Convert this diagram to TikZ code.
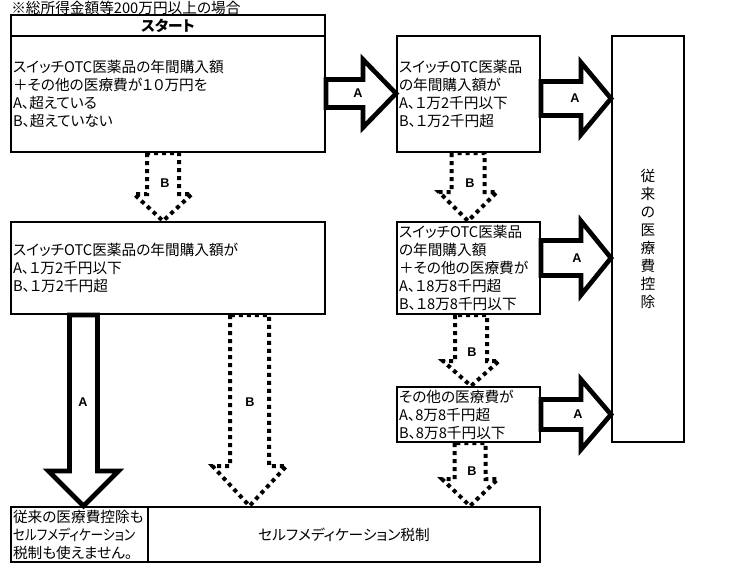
\documentclass[tikz,border=0pt]{standalone}
\usepackage{fontspec}
\setmainfont{Noto Sans CJK JP}[RawFeature=+palt]
\newfontfamily\lblfont{Liberation Sans}
\usetikzlibrary{calc}
\newcommand\jpfont{\fontsize{11pt}{13.5pt}\selectfont}
\newcommand\rarrow[7]{%
 \draw[#7] let \p1=(#1.east), \p2=(#2.west), \p3=(0,#3) in
  (\x1,{\y3+#4*0.75pt}) -- ({\x2-#6*0.75pt},{\y3+#4*0.75pt}) -- ({\x2-#6*0.75pt},{\y3+#5*0.75pt})
  -- (\x2,\y3) -- ({\x2-#6*0.75pt},{\y3-#5*0.75pt}) -- ({\x2-#6*0.75pt},{\y3-#4*0.75pt})
  -- (\x1,{\y3-#4*0.75pt}) -- cycle;}
\newcommand\darrow[7]{%
 \draw[#7] let \p1=(#1.south), \p2=(#2.north), \p3=(#3,0) in
  ({\x3-#4*0.75pt},\y1) -- ({\x3-#4*0.75pt},{\y2+#6*0.75pt}) -- ({\x3-#5*0.75pt},{\y2+#6*0.75pt})
  -- (\x3,\y2) -- ({\x3+#5*0.75pt},{\y2+#6*0.75pt}) -- ({\x3+#4*0.75pt},{\y2+#6*0.75pt})
  -- ({\x3+#4*0.75pt},\y1) -- cycle;}
\tikzset{
 box/.style={draw, line width=1.5pt, rectangle, inner xsep=1.5pt, inner ysep=0pt, align=left, font=\jpfont},
 solidarr/.style={draw=black, fill=white, line width=3.5pt, line join=miter},
 dotarr/.style={draw=black, fill=white, line width=3pt, dash pattern=on 3pt off 3pt, line cap=butt, line join=miter},
 lbl/.style={font=\lblfont\bfseries\fontsize{9.5pt}{11pt}\selectfont, inner sep=0pt}
}
\begin{document}
\begin{tikzpicture}[x=0.75pt,y=-0.75pt]
\useasboundingbox[fill=white] (0,0) rectangle (738,578);
\node[anchor=west, font=\jpfont, inner sep=0pt] (note) at (11,8) {※総所得金額等200万円以上の場合};
\node[box, align=center, text width=232.5pt, minimum height=15.75pt] (title) at (168,25.5) {\bfseries スタート};
\node[box, text width=232.5pt, minimum height=87pt] (start) at (168,94)
 {スイッチOTC医薬品の年間購入額\\＋その他の医療費が１０万円を\\A、超えている\\B、超えていない};
\node[box, text width=104.25pt, minimum height=87pt] (q2) at (468.5,94)
 {スイッチOTC医薬品\\の年間購入額が\\A、１万2千円以下\\B、１万2千円超};
\node[box, align=center, text width=51pt, minimum height=304.5pt] (conv) at (648,239)
 {従\\来\\の\\医\\療\\費\\控\\除};
\node[box, text width=104.25pt, minimum height=69pt] (q3) at (468.5,268)
 {スイッチOTC医薬品\\の年間購入額\\＋その他の医療費が\\A、１8万8千円超\\B、１8万8千円以下};
\node[box, text width=104.25pt, minimum height=41.25pt] (q4) at (468.5,414.5)
 {その他の医療費が\\A、8万8千円超\\B、8万8千円以下};
\node[box, text width=232.5pt, minimum height=69pt] (q1b) at (168,268)
 {スイッチOTC医薬品の年間購入額が\\A、１万2千円以下\\B、１万2千円超};
\node[box, text width=99.75pt, minimum height=41.25pt] (none) at (79.5,534.5)
 {従来の医療費控除も\\\scalebox{0.86}[1]{セルフメディケーション}\\税制も使えません。};
\node[box, align=center, text width=291pt, minimum height=41.25pt] (self) at (344,534.5)
 {セルフメディケーション税制};
% solid arrows (A)
\rarrow{start}{q2}{93.5}{14}{34}{33}{solidarr}
\rarrow{q2}{conv}{98.5}{17}{36}{30}{solidarr}
\rarrow{q3}{conv}{258}{17.5}{37}{30}{solidarr}
\rarrow{q4}{conv}{414.5}{15}{35}{30}{solidarr}
\darrow{q1b}{none}{83.5}{14}{35}{35}{solidarr}
% dotted arrows (B)
\darrow{start}{q1b}{163}{16}{29}{27}{dotarr}
\darrow{q2}{q3}{468}{16.5}{29}{29}{dotarr}
\darrow{q3}{q4}{471}{16}{28}{25}{dotarr}
\darrow{q4}{self}{470}{15.5}{28}{27}{dotarr}
\darrow{q1b}{self}{249.5}{19.5}{37}{40}{dotarr}
% labels
\node[lbl] (la1) at (358,93) {A};
\node[lbl] (la2) at (575,98) {A};
\node[lbl] (la3) at (577,258) {A};
\node[lbl] (la4) at (578,414) {A};
\node[lbl] (la5) at (83,402) {A};
\node[lbl] (lb1) at (165,183) {B};
\node[lbl] (lb2) at (470,183) {B};
\node[lbl] (lb3) at (472,352) {B};
\node[lbl] (lb4) at (472,471) {B};
\node[lbl] (lb5) at (250,402) {B};
\end{tikzpicture}
\end{document}
